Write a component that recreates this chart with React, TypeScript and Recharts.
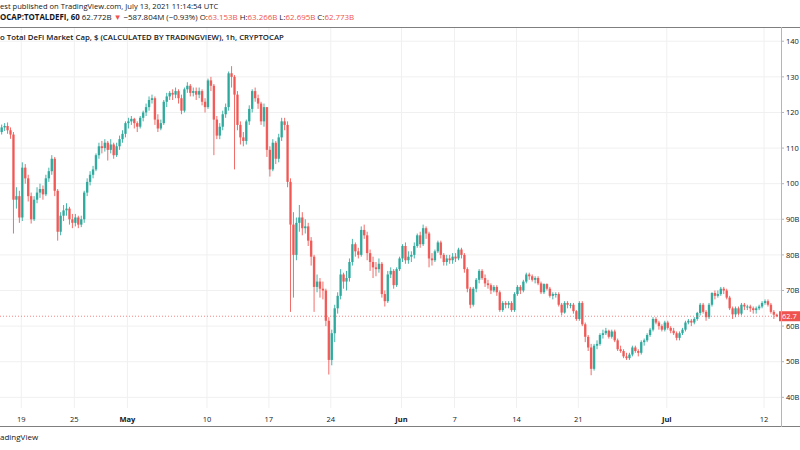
import React from 'react';
import { ComposedChart, Bar, XAxis, YAxis, CartesianGrid, ReferenceLine } from 'recharts';

const UP = '#26a69a';
const DOWN = '#ef5350';
const FONT = "'Open Sans', sans-serif";

// 8h candles; x = day of April (May 1 = 31), first candle centred on Apr 16 12:00
const firstTime = 16.5;
const firstOpen = 113.5;

const closes = [
  114.5, 115.8, // Apr 16
  116.2, 115.0, 113.8, 95.5, 96.5, 90.5, 104.5, 101.5, 96.5, 90.0, 95.5, 97.5,
  98.5, 97.0, 101.5, 103.5, 107.0, 98.0, 86.5, 91.0, 92.5, 93.0, 90.0, 89.0,
  90.5, 88.5, 90.0, 97.5, 100.5, 102.5, 104.0, 108.0, 110.5, 110.0, 111.5, 109.5,
  111.0, 108.0, 110.5, 112.5, 114.0, 117.0, // Apr 17-30
  117.5, 118.2, 117.0, 116.0, 118.5, 120.0, 121.5, 123.5, 124.0, 118.0, 115.5, 117.0,
  123.0, 124.5, 125.5, 125.0, 126.0, 124.0, 120.5, 126.5, 127.5, 125.5, 126.0, 125.0,
  126.0, 123.0, 121.5, 129.0, 127.5, 118.0, 113.5, 116.0, 119.5, 121.5, 131.0, 130.0,
  125.0, 116.5, 113.0, 112.0, 117.5, 121.0, 126.0, 124.0, 122.5, 117.5, 121.5, 109.5,
  104.0, 111.5, 107.0, 113.0, 117.5, 116.5, 100.5, 88.5, 80.0, 89.0, 90.5, 87.5,
  88.0, 84.0, 79.5, 71.0, 72.5, 70.5, 70.0, 61.5, 50.5, 58.0, 65.0, 68.5,
  74.5, 72.5, 73.5, 78.0, 83.0, 81.0, 80.0, 87.0, 85.5, 80.5, 78.0, 76.5,
  76.0, 77.5, 69.0, 67.0, 74.5, 75.5, 71.5, 76.0, 79.0, // May
  82.5, 78.5, 79.5, 80.0, 82.5, 85.5, 83.0, 87.5, 86.0, 79.0, 78.5, 81.0,
  83.5, 80.0, 78.0, 79.0, 78.5, 79.5, 79.0, 81.5, 80.0, 76.0, 70.5, 66.0,
  70.5, 73.0, 75.5, 73.5, 72.0, 71.5, 70.0, 71.0, 69.5, 64.5, 66.5, 66.0,
  66.5, 64.5, 69.0, 71.0, 70.0, 72.5, 74.5, 74.0, 73.0, 73.5, 72.0, 69.5,
  71.8, 70.5, 68.5, 69.0, 69.0, 66.0, 63.8, 66.5, 66.0, 66.0, 64.2, 62.0,
  66.5, 60.5, 57.0, 54.0, 48.0, 54.5, 55.0, 57.5, 58.0, 58.7, 57.0, 58.5,
  56.0, 53.5, 53.0, 51.5, 51.0, 52.0, 54.0, 53.0, 52.5, 55.5, 56.0, 57.5,
  59.0, 62.0, 61.0, 60.0, 59.0, 61.0, // June
  59.5, 58.7, 58.0, 56.7, 58.0, 59.0, 61.0, 61.5, 61.0, 62.0, 63.7, 66.0,
  64.0, 62.5, 66.0, 69.3, 68.5, 69.0, 70.5, 70.0, 68.0, 65.0, 63.3, 65.0,
  63.5, 66.0, 65.5, 65.5, 65.0, 64.5, 65.0, 65.5, 66.5, 67.0, 66.0, 64.0,
  63.2, 62.77, // Jul 1-13
];

const highs = [
  115.5, 116.6,
  117.0, 117.2, 115.8, 114.5, 99.0, 98.0, 106.0, 105.5, 102.5, 97.5, 96.5, 99.0,
  100.0, 99.5, 102.5, 104.5, 108.0, 107.5, 98.5, 92.0, 94.0, 94.5, 93.5, 91.5,
  91.5, 91.0, 91.0, 98.0, 101.5, 103.5, 105.0, 108.5, 111.5, 112.0, 112.5, 112.0,
  112.5, 111.5, 111.5, 113.5, 115.0, 117.5,
  118.5, 119.0, 118.5, 117.5, 119.0, 120.5, 122.5, 124.5, 125.0, 124.5, 119.5, 118.0,
  123.5, 125.5, 126.0, 126.5, 127.0, 126.5, 125.0, 127.0, 128.5, 128.0, 127.0, 127.0,
  127.0, 126.5, 124.0, 129.5, 130.0, 128.0, 119.0, 117.0, 120.5, 122.5, 131.5, 133.0,
  130.5, 126.0, 117.5, 114.5, 118.0, 122.0, 126.5, 127.0, 125.0, 123.0, 122.5, 121.5,
  110.5, 112.5, 112.0, 114.0, 118.5, 118.5, 117.5, 101.5, 92.0, 90.5, 94.0, 92.0,
  90.0, 89.0, 85.0, 80.0, 74.5, 73.5, 72.5, 70.5, 62.5, 59.0, 66.0, 69.5,
  76.0, 75.0, 75.5, 79.0, 84.5, 83.5, 82.0, 88.0, 88.5, 86.5, 81.5, 79.5,
  78.0, 79.0, 78.0, 70.0, 75.5, 76.5, 76.0, 76.5, 79.5,
  83.0, 83.5, 81.0, 81.0, 83.5, 86.0, 86.5, 88.5, 88.0, 86.5, 80.5, 81.5,
  84.0, 84.0, 80.5, 80.0, 80.0, 80.5, 80.5, 82.0, 82.0, 80.5, 76.5, 71.0,
  71.0, 73.5, 76.0, 76.0, 74.5, 73.0, 72.0, 71.5, 71.5, 70.0, 67.0, 67.0,
  67.0, 67.0, 69.5, 71.5, 71.5, 73.0, 75.0, 75.0, 74.5, 74.0, 74.0, 72.5,
  72.0, 72.0, 71.0, 69.5, 69.5, 69.5, 66.5, 67.0, 67.0, 66.5, 66.5, 64.5,
  67.0, 67.0, 61.0, 57.5, 55.0, 55.0, 56.0, 58.0, 59.0, 59.5, 59.0, 59.0,
  59.0, 56.5, 54.5, 53.5, 52.5, 52.5, 54.5, 54.5, 53.5, 56.0, 56.5, 58.0,
  59.5, 62.5, 62.5, 61.5, 60.5, 61.5,
  61.5, 60.0, 59.5, 58.5, 58.5, 59.5, 61.5, 62.0, 62.0, 62.5, 64.0, 66.5,
  66.5, 64.5, 66.5, 69.5, 70.0, 70.0, 71.0, 71.0, 70.5, 68.5, 65.5, 65.5,
  65.5, 66.5, 66.5, 66.0, 66.0, 65.5, 65.5, 66.0, 67.0, 67.5, 67.5, 66.5,
  64.5, 63.5,
];

const lows = [
  112.5, 113.8,
  114.8, 114.0, 112.6, 86.0, 93.0, 89.0, 89.5, 100.0, 95.0, 88.8, 89.5, 94.5,
  96.0, 95.5, 96.5, 100.5, 102.5, 96.5, 84.0, 85.5, 89.5, 91.0, 88.5, 87.5,
  88.0, 87.5, 87.8, 89.0, 96.5, 99.5, 101.5, 103.5, 107.0, 108.5, 109.0, 106.5,
  108.5, 107.0, 107.5, 109.5, 111.5, 113.0,
  115.5, 116.5, 115.5, 114.5, 115.5, 117.5, 119.0, 120.5, 122.5, 116.5, 114.5, 115.0,
  116.5, 121.5, 123.5, 123.5, 124.0, 122.5, 119.5, 120.0, 125.5, 124.5, 124.5, 123.5,
  124.0, 122.0, 120.0, 121.0, 126.0, 108.0, 112.5, 112.5, 115.0, 118.5, 120.5, 127.0,
  104.0, 115.0, 111.0, 110.5, 111.0, 116.5, 120.0, 123.0, 121.0, 116.5, 116.0, 107.5,
  102.0, 103.5, 105.5, 106.0, 112.0, 115.0, 99.0, 64.0, 68.0, 78.5, 86.5, 85.5,
  86.0, 82.5, 77.0, 64.0, 69.5, 68.0, 67.5, 60.0, 46.4, 49.0, 55.5, 63.5,
  67.5, 70.5, 70.0, 72.5, 77.0, 79.5, 79.0, 79.5, 84.5, 78.5, 75.5, 73.5,
  74.0, 75.0, 68.0, 65.5, 66.5, 73.5, 70.5, 71.0, 75.5,
  78.0, 77.5, 77.5, 78.0, 79.0, 82.0, 82.0, 82.5, 84.5, 76.5, 77.0, 78.0,
  80.5, 79.0, 77.0, 77.0, 77.5, 77.5, 78.0, 78.5, 79.0, 75.0, 69.5, 65.0,
  65.5, 69.5, 72.0, 73.0, 71.0, 70.5, 69.0, 69.5, 68.5, 64.0, 64.0, 65.0,
  65.0, 64.0, 64.0, 68.5, 69.0, 69.5, 72.0, 73.0, 72.5, 72.0, 71.5, 69.0,
  69.0, 70.0, 68.0, 67.5, 68.0, 65.5, 63.0, 63.5, 65.0, 65.0, 63.5, 61.5,
  61.5, 60.0, 55.5, 53.0, 46.2, 47.5, 53.5, 54.5, 56.5, 57.5, 56.5, 56.5,
  55.5, 53.0, 52.5, 51.0, 50.5, 50.5, 51.5, 52.5, 51.5, 52.0, 54.5, 55.5,
  57.0, 58.5, 60.5, 59.0, 58.5, 58.5,
  59.0, 58.0, 57.5, 56.0, 56.0, 57.5, 58.5, 60.5, 60.0, 60.5, 61.5, 63.0,
  63.5, 61.5, 62.0, 65.5, 67.5, 68.0, 68.5, 69.0, 67.5, 64.5, 62.0, 62.5,
  63.0, 63.0, 64.5, 64.5, 64.0, 63.5, 63.5, 64.5, 65.0, 66.0, 65.5, 63.5,
  62.0, 62.5,
];

const dayTicks = [19, 25, 31, 40, 47, 54, 62, 68, 75, 82, 92, 103];
const dayLabels = ['19', '25', 'May', '10', '17', '24', 'Jun', '7', '14', '21', 'Jul', '12'];
const priceTicks = [40, 50, 60, 70, 80, 90, 100, 110, 120, 130, 140];
// the price scale is cut at the picture's edge, so only these parts of the labels show
const priceLabels = ['40B', '50B', '60B', '70B', '80B', '90B', '100', '110', '120', '130', '140'];
const lastPrice = 62.773;
const lastPriceLabel = '62.7';

const data = closes.map((c, i) => ({
  t: firstTime + i / 3,
  open: i === 0 ? firstOpen : closes[i - 1],
  close: c,
  high: highs[i],
  low: lows[i],
}));

const Candle = (props: any) => {
  const { x, y, width, height, payload } = props;
  const top = Math.min(y, y + height);
  const bot = Math.max(y, y + height);
  const { open, close, high, low } = payload;
  const k = high === low ? 0 : (bot - top) / (high - low);
  const cx = x + width / 2;
  const bTop = top + (high - Math.max(open, close)) * k;
  const bBot = top + (high - Math.min(open, close)) * k;
  const color = close >= open ? UP : DOWN;
  return (
    <g>
      <line x1={cx} x2={cx} y1={top} y2={bot} stroke={color} strokeWidth={1} strokeOpacity={0.85} />
      <rect x={cx - 1.2} y={bTop} width={2.4} height={Math.max(bBot - bTop, 1)} fill={color} fillOpacity={0.9} />
    </g>
  );
};

const DayTick = (props: any) => {
  const { x, y, payload } = props;
  const i = dayTicks.indexOf(payload.value);
  const label = dayLabels[i];
  const bold = label === 'May' || label === 'Jun' || label === 'Jul';
  return (
    <text x={x} y={y + 12} textAnchor="middle" fontSize={7.5} fontFamily={FONT}
      fontWeight={bold ? 700 : 400} fill="#131722">
      {label}
    </text>
  );
};

const PriceTick = (props: any) => {
  const { y, payload } = props;
  const i = priceTicks.indexOf(payload.value);
  return (
    <text x={786} y={y + 2.7} fontSize={7.5} fontFamily={FONT} fill="#131722">
      {priceLabels[i]}
    </text>
  );
};

const PriceLabel = (props: any) => {
  const y = props.viewBox.y;
  return (
    <g>
      <rect x={779} y={y - 5} width={21} height={10} fill={DOWN} />
      <text x={782} y={y + 2.7} fontSize={7.5} fontFamily={FONT} fill="#ffffff">
        {lastPriceLabel}
      </text>
    </g>
  );
};

const red = { color: DOWN };

const App: React.FC = () => {
  return (
    <div style={{ position: 'absolute', left: 0, top: 0, width: 800, height: 450, background: '#fff', fontFamily: FONT, color: '#131722' }}>
      <ComposedChart width={800} height={450} data={data} margin={{ top: 27, right: 0, bottom: 24, left: 0 }}>
        <CartesianGrid stroke="#f0f0f0" verticalValues={dayTicks} horizontalValues={priceTicks} />
        <XAxis dataKey="t" type="number" domain={[16.59, 104.92]} allowDataOverflow ticks={dayTicks}
          tick={<DayTick />} tickLine={false} tickSize={0} axisLine={false} height={18} interval={0} />
        <YAxis orientation="right" type="number" domain={[37.0, 144.0]} allowDataOverflow ticks={priceTicks}
          tick={<PriceTick />} tickSize={3} tickLine={{ stroke: '#b2b5be' }} axisLine={false} width={19} interval={0} />
        <ReferenceLine y={lastPrice} stroke={DOWN} strokeDasharray="1 2" strokeOpacity={0.7} label={<PriceLabel />} />
        <Bar dataKey={(d: any) => [d.low, d.high]} shape={<Candle />} barSize={2} isAnimationActive={false} />
      </ComposedChart>

      <div style={{ position: 'absolute', left: 0, top: 27, width: 800, height: 1, background: '#7f7f7f' }} />
      <div style={{ position: 'absolute', left: 0, top: 426, width: 800, height: 1, background: '#7f7f7f' }} />
      <div style={{ position: 'absolute', left: 781, top: 27, width: 1, height: 400, background: '#b2b5be' }} />

      <div style={{ position: 'absolute', left: 0, top: 1, fontSize: 7.6, whiteSpace: 'nowrap' }}>
        est published on TradingView.com, July 13, 2021 11:14:54 UTC
      </div>
      <div style={{ position: 'absolute', left: 0, top: 12, fontSize: 7.9, whiteSpace: 'nowrap' }}>
        <b>OCAP:TOTALDEFI, 60</b> 62.772B <span style={red}>▼</span> −587.804M (−0.93%){' '}
        O:<span style={red}>63.153B</span> H:<span style={red}>63.266B</span> L:<span style={red}>62.695B</span> C:<span style={red}>62.773B</span>
      </div>
      <div style={{ position: 'absolute', left: 0, top: 32, fontSize: 7.8, fontWeight: 600, whiteSpace: 'nowrap' }}>
        o Total DeFi Market Cap, $ (CALCULATED BY TRADINGVIEW), 1h, CRYPTOCAP
      </div>
      <div style={{ position: 'absolute', left: 0, top: 431, fontSize: 8, whiteSpace: 'nowrap' }}>
        adingView
      </div>
    </div>
  );
};

export default App;
